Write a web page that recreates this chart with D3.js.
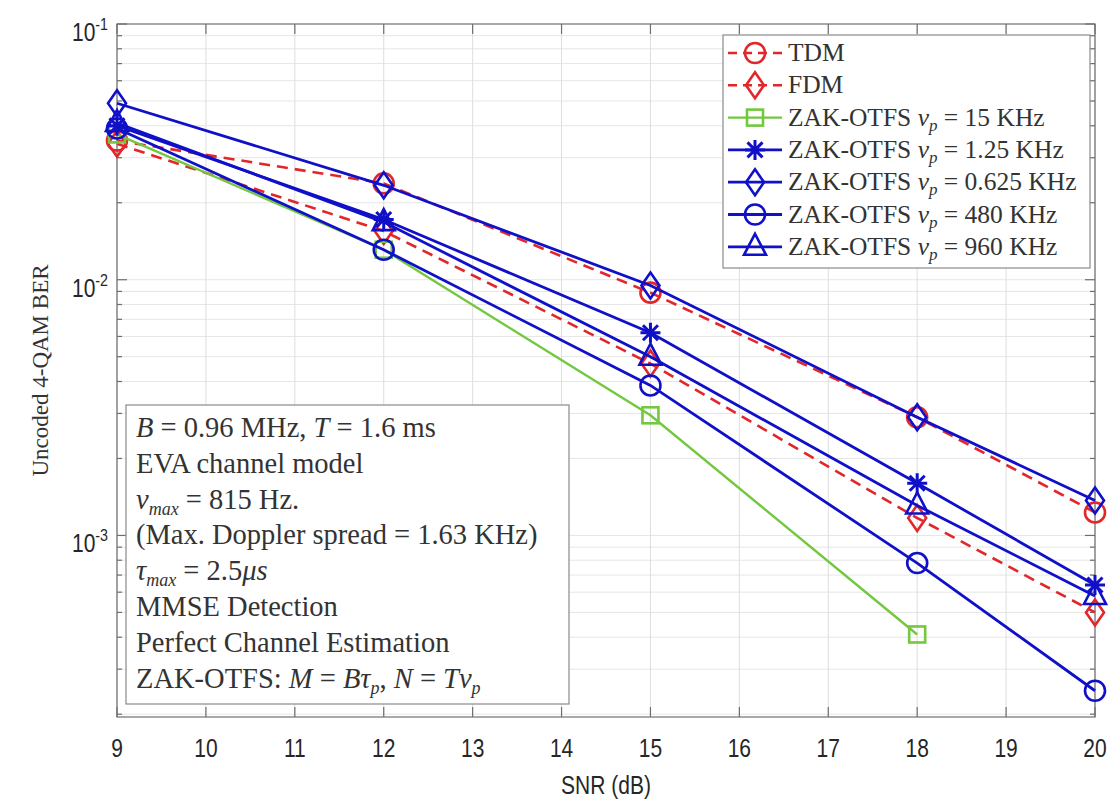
<!DOCTYPE html>
<html><head><meta charset="utf-8">
<script src="https://d3js.org/d3.v7.min.js"></script>
<style>body{margin:0;background:#fff}</style>
</head><body>
<script>
// ---- data ----
const snr = [9, 12, 15, 18, 20];
const berTDM   = [0.035, 0.0238, 0.0089, 0.0029, 0.00123];
const berFDM   = [0.034, 0.0155, 0.0047, 0.00117, 0.00050];
const berZ15   = [0.037, 0.0131, 0.00295, 0.00041];
const berZ125  = [0.040, 0.0172, 0.0062, 0.0016, 0.00064];
const berZ0625 = [0.049, 0.0234, 0.0095, 0.0029, 0.00137];
const berZ480  = [0.039, 0.0131, 0.00386, 0.00078, 0.000247];
const berZ960  = [0.041, 0.0168, 0.0050, 0.00131, 0.00058];
const seriesNames = ["TDM","FDM","15 KHz","1.25 KHz","0.625 KHz","480 KHz","960 KHz"];
const xTicks = [9,10,11,12,13,14,15,16,17,18,19,20];
const yMajor = [1e-3, 1e-2, 1e-1];
const annotLines = [
  [["B","i"],[" = 0.96 MHz, ",""],["T","i"],[" = 1.6 ms",""]],
  [["EVA channel model",""]],
  [["ν","i"],["max","is"],[" = 815 Hz.",""]],
  [["(Max. Doppler spread = 1.63 KHz)",""]],
  [["τ","i"],["max","is"],[" = 2.5",""],["μs","i"]],
  [["MMSE Detection",""]],
  [["Perfect Channel Estimation",""]],
  [["ZAK-OTFS: ",""],["M","i"],[" = ",""],["Bτ","i"],["p","is"],[", ",""],["N","i"],[" = ",""],["Tν","i"],["p","is"]]
];

const W = 1112, H = 808;
const svg = d3.select("body").append("svg").attr("width", W).attr("height", H)
  .style("font-family","'Liberation Serif', serif");

const x = d3.scaleLinear().domain([9, 20]).range([117, 1095]);
const y = d3.scaleLog().domain([1.95e-4, 0.1]).range([717, 24]);
const [x0, x1] = x.range(); const [y1, y0] = y.range();

const BLUE = "#1010c8", RED = "#e2272b", GREEN = "#72c83e";
const series = [
  {vals: berTDM, color: RED, dash: "11,7", marker: "circle", w: 2.6},
  {vals: berFDM, color: RED, dash: "11,7", marker: "diamond", w: 2.6},
  {vals: berZ15, color: GREEN, dash: null, marker: "square", w: 2.4},
  {vals: berZ125, color: BLUE, dash: null, marker: "star", w: 2.8},
  {vals: berZ0625, color: BLUE, dash: null, marker: "diamond", w: 2.8},
  {vals: berZ480, color: BLUE, dash: null, marker: "circle", w: 2.8},
  {vals: berZ960, color: BLUE, dash: null, marker: "triangle", w: 2.8},
];

// grid
const minorVals = [];
for (let e = -4; e <= -2; e++) for (let m = 1; m <= 9; m++) {
  const v = m * Math.pow(10, e);
  if (v >= y.domain()[0] && v <= y.domain()[1]) minorVals.push(v);
}
const grid = svg.append("g");
grid.selectAll(".hg").data(minorVals).join("line")
  .attr("x1", x0).attr("x2", x1).attr("y1", d => y(d)).attr("y2", d => y(d))
  .attr("stroke", "#e6e6e6").attr("stroke-width", 1);
grid.selectAll(".vg").data(xTicks).join("line")
  .attr("x1", d => x(d)).attr("x2", d => x(d)).attr("y1", y0).attr("y2", y1)
  .attr("stroke", "#dedede").attr("stroke-width", 1);

// axes (ticks inside)
const isMajor = v => yMajor.some(m => Math.abs(Math.log10(v) - Math.log10(m)) < 1e-6);
const axG = svg.append("g").attr("stroke", "#6e6e6e").attr("stroke-width", 1.2);
axG.append("rect").attr("x", x0).attr("y", y0).attr("width", x1 - x0).attr("height", y1 - y0).attr("fill", "none");
minorVals.concat([1e-1]).forEach(v => {
  const L = isMajor(v) ? 10 : 5;
  axG.append("line").attr("x1", x0).attr("x2", x0 + L).attr("y1", y(v)).attr("y2", y(v));
  axG.append("line").attr("x1", x1).attr("x2", x1 - L).attr("y1", y(v)).attr("y2", y(v));
});
xTicks.forEach(v => {
  axG.append("line").attr("x1", x(v)).attr("x2", x(v)).attr("y1", y1).attr("y2", y1 - 10);
  axG.append("line").attr("x1", x(v)).attr("x2", x(v)).attr("y1", y0).attr("y2", y0 + 10);
});

// tick labels
const sans = "'Liberation Sans', Arial, sans-serif";
xTicks.forEach(v => {
  svg.append("g").attr("transform", `translate(${x(v)},${y1 + 40}) scale(0.84,1)`)
    .append("text").attr("text-anchor", "middle").attr("font-family", sans)
    .attr("font-size", 25).attr("fill", "#262626").text(v);
});
yMajor.forEach(v => {
  const t = svg.append("g").attr("transform", `translate(${x0 - 9},${y(v) + 17}) scale(0.84,1)`)
    .append("text").attr("text-anchor", "end").attr("font-family", sans)
    .attr("font-size", 25).attr("fill", "#262626");
  t.append("tspan").text("10");
  t.append("tspan").attr("dy", -11).attr("font-size", 17).text("-" + Math.round(-Math.log10(v)));
});
svg.append("g").attr("transform", `translate(${(x0 + x1) / 2},${H - 14}) scale(0.84,1)`)
  .append("text").attr("text-anchor", "middle").attr("font-family", sans)
  .attr("font-size", 25).attr("fill", "#262626").text("SNR (dB)");
svg.append("text").attr("transform", `translate(48,${(y0 + y1) / 2}) rotate(-90)`)
  .attr("text-anchor", "middle").attr("font-size", 23).attr("fill", "#333")
  .text("Uncoded 4-QAM BER");

// marker drawer
function drawMarker(g, type, cx, cy, color) {
  const sw = 2.6;
  if (type === "circle") {
    g.append("circle").attr("cx", cx).attr("cy", cy).attr("r", 10)
      .attr("fill", "none").attr("stroke", color).attr("stroke-width", sw);
  } else if (type === "diamond") {
    g.append("path").attr("d", `M${cx},${cy - 13}L${cx + 9},${cy}L${cx},${cy + 13}L${cx - 9},${cy}Z`)
      .attr("fill", "none").attr("stroke", color).attr("stroke-width", sw);
  } else if (type === "square") {
    g.append("rect").attr("x", cx - 8).attr("y", cy - 8).attr("width", 16).attr("height", 16)
      .attr("fill", "none").attr("stroke", color).attr("stroke-width", sw);
  } else if (type === "triangle") {
    g.append("path").attr("d", `M${cx},${cy - 13}L${cx + 11},${cy + 8}L${cx - 11},${cy + 8}Z`)
      .attr("fill", "none").attr("stroke", color).attr("stroke-width", sw);
  } else if (type === "star") {
    const r = 10, rd = 7.5;
    g.append("path").attr("d",
      `M${cx - r},${cy}L${cx + r},${cy}M${cx},${cy - r}L${cx},${cy + r}` +
      `M${cx - rd},${cy - rd}L${cx + rd},${cy + rd}M${cx - rd},${cy + rd}L${cx + rd},${cy - rd}`)
      .attr("fill", "none").attr("stroke", color).attr("stroke-width", 3);
  }
}

// series
const plotG = svg.append("g");
const line = d3.line().x((d, i) => x(snr[i])).y(d => y(d));
series.forEach(s => {
  plotG.append("path").datum(s.vals).attr("d", line).attr("fill", "none")
    .attr("stroke", s.color).attr("stroke-width", s.w)
    .attr("stroke-dasharray", s.dash);
  s.vals.forEach((v, i) => drawMarker(plotG, s.marker, x(snr[i]), y(v), s.color));
});

// legend
const lg = svg.append("g");
lg.append("rect").attr("x", 723).attr("y", 35).attr("width", 367).attr("height", 233)
  .attr("fill", "#fff").attr("stroke", "#8a8a8a").attr("stroke-width", 1.2);
series.forEach((s, i) => {
  const cy = 53 + i * 32.3;
  lg.append("line").attr("x1", 728).attr("x2", 782).attr("y1", cy).attr("y2", cy)
    .attr("stroke", s.color).attr("stroke-width", s.w).attr("stroke-dasharray", s.dash ? "9,6" : null);
  drawMarker(lg, s.marker, 755, cy, s.color);
  const t = lg.append("text").attr("x", 788).attr("y", cy + 8).attr("font-size", 25.5).attr("fill", "#333");
  if (i < 2) t.text(seriesNames[i]);
  else {
    t.append("tspan").text("ZAK-OTFS ");
    t.append("tspan").attr("font-style", "italic").text("ν");
    t.append("tspan").attr("font-style", "italic").attr("font-size", 17).attr("dy", 5).text("p");
    t.append("tspan").attr("dy", -5).text(" = " + seriesNames[i]);
  }
});

// annotation box
const ab = svg.append("g");
ab.append("rect").attr("x", 126).attr("y", 405).attr("width", 443).attr("height", 299)
  .attr("fill", "#fff").attr("stroke", "#8a8a8a").attr("stroke-width", 1.2);
annotLines.forEach((ln, i) => {
  const t = ab.append("text").attr("x", 136).attr("y", 428 + i * 35.8 + 9)
    .attr("font-size", 28.5).attr("fill", "#333");
  let sub = false;
  ln.forEach(([str, st]) => {
    const sp = t.append("tspan").text(str);
    if (st.includes("i")) sp.attr("font-style", "italic");
    if (st.includes("s")) { sp.attr("font-size", 18).attr("dy", sub ? 0 : 6); sub = true; }
    else if (sub) { sp.attr("dy", -6); sub = false; }
  });
});
</script>
</body></html>
